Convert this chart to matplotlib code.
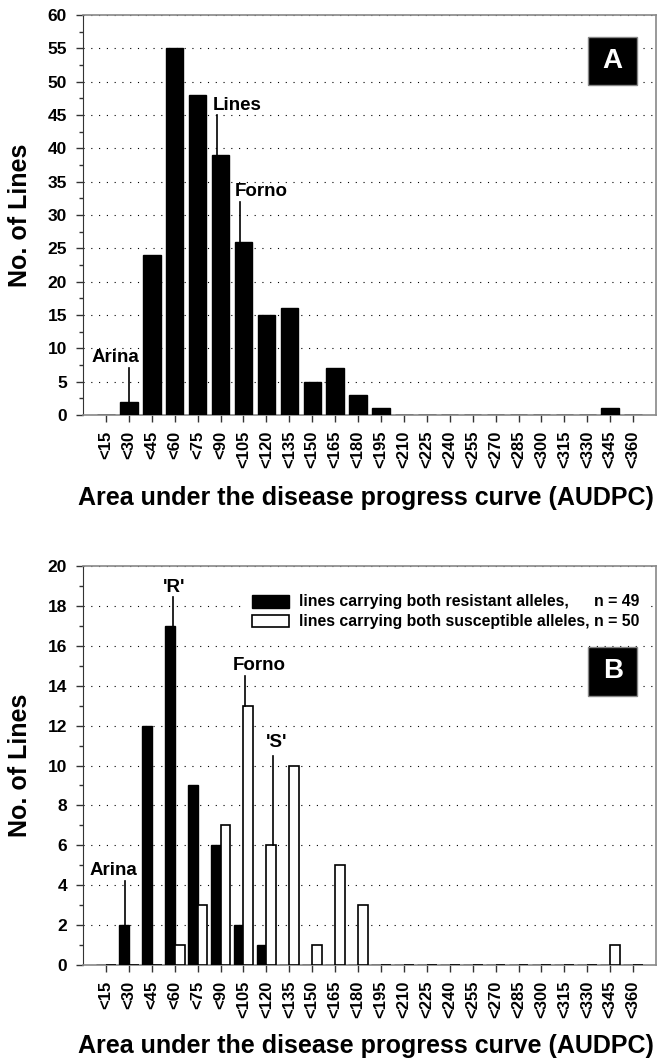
import matplotlib
matplotlib.use('Agg')
import matplotlib.pyplot as plt
from matplotlib.patches import Rectangle
from matplotlib.ticker import MultipleLocator
import numpy as np

plt.rcParams['font.family'] = ['Liberation Sans', 'DejaVu Sans']
plt.rcParams['font.weight'] = 'bold'

categories = ['<15', '<30', '<45', '<60', '<75', '<90', '<105', '<120', '<135', '<150',
              '<165', '<180', '<195', '<210', '<225', '<240', '<255', '<270', '<285',
              '<300', '<315', '<330', '<345', '<360']
all_lines = [0, 2, 24, 55, 48, 39, 26, 15, 16, 5, 7, 3, 1, 0, 0, 0, 0, 0, 0, 0, 0, 0, 1, 0]
resistant = [0, 2, 12, 17, 9, 6, 2, 1, 0, 0, 0, 0, 0, 0, 0, 0, 0, 0, 0, 0, 0, 0, 0, 0]
susceptible = [0, 0, 0, 1, 3, 7, 13, 6, 10, 1, 5, 3, 0, 0, 0, 0, 0, 0, 0, 0, 0, 0, 1, 0]

x = np.arange(len(categories))
xlab = 'Area under the disease progress curve (AUDPC)'

fig = plt.figure(figsize=(6.59, 10.58), dpi=100)
axA = fig.add_axes([0.126, 0.6078, 0.8695, 0.378])
axB = fig.add_axes([0.126, 0.0879, 0.8695, 0.3771])


def style(ax, ymax, major, minor, xlab_y):
    ax.set_xlim(-1, len(categories))
    ax.set_ylim(0, ymax)
    ax.set_xticks(x)
    ax.set_xticklabels(categories, rotation=90, fontsize=12, fontweight='bold')
    ax.yaxis.set_major_locator(MultipleLocator(major))
    ax.yaxis.set_minor_locator(MultipleLocator(minor))
    for lbl in ax.get_yticklabels():
        lbl.set_fontsize(12.5)
        lbl.set_fontweight('bold')
    ax.tick_params(axis='both', which='major', length=5, width=1, color='#333333', pad=6.5)
    ax.tick_params(axis='y', which='minor', length=3, width=1, color='#333333')
    for s in ['top', 'right', 'bottom']:
        ax.spines[s].set_color('#888888')
        ax.spines[s].set_linewidth(1.2)
    ax.spines['left'].set_color('#333333')
    ax.set_axisbelow(True)
    ax.yaxis.grid(True, which='major', color='black', linestyle=(0, (1, 6)), linewidth=0.8)
    ax.set_ylabel('No. of Lines', fontsize=18, fontweight='bold')
    ax.yaxis.set_label_coords(-0.089, 0.5)
    ax.set_xlabel(xlab, fontsize=18, fontweight='bold')
    ax.xaxis.set_label_coords(0.494, xlab_y)


def panel_box(ax, letter, x0, y0, w, h):
    ax.add_patch(Rectangle((x0, y0), w, h, transform=ax.transAxes, facecolor='black',
                           edgecolor='#888888', linewidth=1, zorder=5))
    ax.text(x0 + w / 2, y0 + h / 2, letter, transform=ax.transAxes, color='white',
            fontsize=20, fontweight='bold', ha='center', va='center', zorder=6)


def mark(ax, xl, y0, y1, label, tx, ty, ha='center'):
    ax.plot([xl, xl], [y0, y1], color='black', linewidth=1.2, zorder=4)
    ax.text(tx, ty, label, fontsize=13.5, fontweight='bold', ha=ha, va='bottom', zorder=4)


# Panel A
axA.bar(x, all_lines, width=0.76, color='black', edgecolor='black', zorder=3)
style(axA, 60, 5, 2.5, -0.1775)
panel_box(axA, 'A', 0.881, 0.824, 0.0855, 0.122)
mark(axA, 1.0, 2, 7, 'Arina', 0.4, 7.4)
mark(axA, 4.85, 39, 45, 'Lines', 4.68, 45.2, ha='left')
mark(axA, 5.84, 26, 32, 'Forno', 5.62, 32.2, ha='left')

# Panel B
w = 0.43
axB.bar(x - w / 2, resistant, width=w, color='black', edgecolor='black', linewidth=1, zorder=3)
axB.bar(x + w / 2, susceptible, width=w, color='white', edgecolor='black', linewidth=1.2, zorder=3)
style(axB, 20, 2, 1, -0.172)
panel_box(axB, 'B', 0.882, 0.675, 0.0845, 0.123)
mark(axB, 0.83, 2, 4.2, 'Arina', 0.34, 4.3)
mark(axB, 2.92, 17, 18.43, "'R'", 2.99, 18.5)
mark(axB, 6.06, 13, 14.5, 'Forno', 6.67, 14.6)
mark(axB, 7.3, 6, 10.5, "'S'", 7.46, 10.75)

# legend drawn by hand so the n values line up on the right
axB.add_patch(Rectangle((0.283, 0.835), 0.70, 0.11, transform=axB.transAxes,
                        facecolor='white', edgecolor='none', zorder=5))
axB.add_patch(Rectangle((0.2955, 0.8955), 0.0645, 0.032, transform=axB.transAxes,
                        facecolor='black', edgecolor='black', linewidth=1, zorder=6))
axB.add_patch(Rectangle((0.2955, 0.847), 0.0645, 0.030, transform=axB.transAxes,
                        facecolor='white', edgecolor='black', linewidth=1.2, zorder=6))
axB.text(0.3775, 0.912, 'lines carrying both resistant alleles,', transform=axB.transAxes,
         fontsize=11.4, fontweight='bold', ha='left', va='center', zorder=6)
t2 = axB.text(0.3775, 0.862, 'lines carrying both susceptible alleles, n = 50',
              transform=axB.transAxes, fontsize=11.4, fontweight='bold',
              ha='left', va='center', zorder=6)
fig.canvas.draw()
bb = t2.get_window_extent().transformed(axB.transAxes.inverted())
axB.text(bb.x1, 0.912, 'n = 49', transform=axB.transAxes,
         fontsize=11.4, fontweight='bold', ha='right', va='center', zorder=6)

fig.savefig('out.png', dpi=100)
